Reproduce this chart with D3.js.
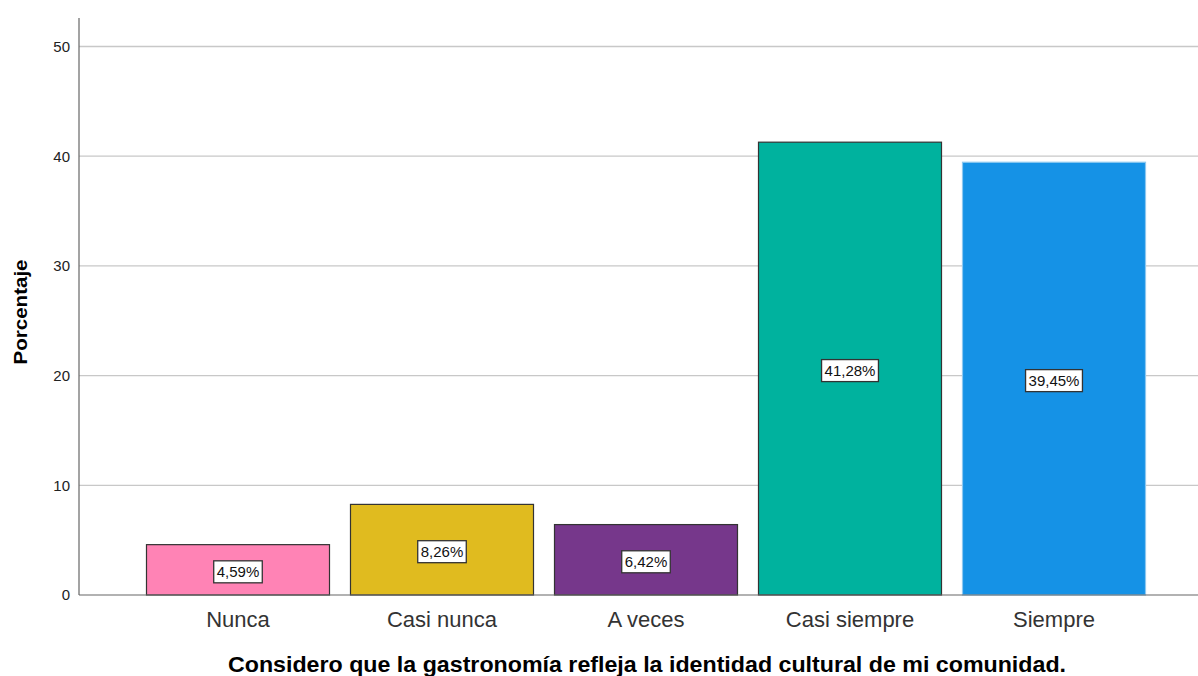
<!DOCTYPE html>
<html><head><meta charset="utf-8">
<script src="https://cdn.jsdelivr.net/npm/d3@7"></script>
<style>body{margin:0;background:#fff}svg{display:block}</style>
</head><body>
<script>
const categories = ["Nunca", "Casi nunca", "A veces", "Casi siempre", "Siempre"];
const values = [4.59, 8.26, 6.42, 41.28, 39.45];
const labels = ["4,59%", "8,26%", "6,42%", "41,28%", "39,45%"];
const colors = ["#FF83B5", "#E0BB1F", "#76378B", "#00B29E", "#1592E6"];
const strokes = ["#333", "#333", "#333", "#333", "#8cc8f0"];
const yTicks = [0, 10, 20, 30, 40, 50];

const W = 1198, H = 676;
const FONT = "Arial, 'Liberation Sans', sans-serif";
const svg = d3.select("body").append("svg").attr("width", W).attr("height", H);
const x = d3.scaleBand().domain(categories).range([126, 1166]).paddingInner(0.098).paddingOuter(0.098);
const y = d3.scaleLinear().domain([0, 52.6]).range([595, 18]);
const left = 79, right = 1198;

// gridlines
svg.append("g").selectAll("line").data(yTicks.filter(d => d > 0)).join("line")
  .attr("x1", left).attr("x2", right).attr("y1", d => y(d)).attr("y2", d => y(d))
  .attr("stroke", "#c8c8c8").attr("stroke-width", 1.3);

// bars
svg.append("g").selectAll("rect").data(values).join("rect")
  .attr("x", (d, i) => x(categories[i]) + 0.5)
  .attr("width", x.bandwidth() - 1)
  .attr("y", d => y(d))
  .attr("height", d => y(0) - y(d))
  .attr("fill", (d, i) => colors[i])
  .attr("stroke", (d, i) => strokes[i]).attr("stroke-width", 1.2);

// axes
const yAxis = d3.axisLeft(y).tickValues(yTicks).tickSize(0).tickPadding(9);
const gy = svg.append("g").attr("transform", `translate(${left},0)`).call(yAxis);
gy.select(".domain").remove();
gy.selectAll("text").attr("font-family", FONT).attr("font-size", 15).attr("fill", "#222");
svg.append("line").attr("x1", left).attr("x2", left).attr("y1", 18).attr("y2", 595).attr("stroke", "#666").attr("stroke-width", 1.2);
svg.append("line").attr("x1", left).attr("x2", right).attr("y1", 595).attr("y2", 595).attr("stroke", "#666").attr("stroke-width", 1.2);

const xAxis = d3.axisBottom(x).tickSize(0).tickPadding(16);
const gx = svg.append("g").attr("transform", `translate(0,595)`).call(xAxis);
gx.select(".domain").remove();
gx.selectAll("text").attr("font-family", FONT).attr("font-size", 22).attr("fill", "#333");

// value labels
const lg = svg.append("g");
values.forEach((v, i) => {
  const cx = x(categories[i]) + x.bandwidth() / 2;
  const cy = (y(v) + y(0)) / 2 + 2;
  const t = lg.append("text").attr("x", cx).attr("y", cy).attr("text-anchor", "middle").attr("dominant-baseline", "central")
    .attr("font-family", FONT).attr("font-size", 15).attr("fill", "#111").text(labels[i]);
  const bb = t.node().getBBox();
  lg.insert("rect", () => t.node()).attr("x", bb.x - 3).attr("y", cy - 11).attr("width", bb.width + 6).attr("height", 22)
    .attr("fill", "#fff").attr("stroke", "#333").attr("stroke-width", 1.3);
});

// titles
svg.append("text").attr("transform", "translate(27,312) rotate(-90)").attr("text-anchor", "middle")
  .attr("font-family", FONT).attr("font-weight", "bold").attr("font-size", 19).attr("fill", "#000")
  .attr("textLength", 105).attr("lengthAdjust", "spacingAndGlyphs").text("Porcentaje");
svg.append("text").attr("x", 647).attr("y", 672).attr("text-anchor", "middle")
  .attr("font-family", FONT).attr("font-weight", "bold").attr("font-size", 22).attr("fill", "#000")
  .attr("textLength", 838).attr("lengthAdjust", "spacingAndGlyphs")
  .text("Considero que la gastronomía refleja la identidad cultural de mi comunidad.");
</script>
</body></html>
